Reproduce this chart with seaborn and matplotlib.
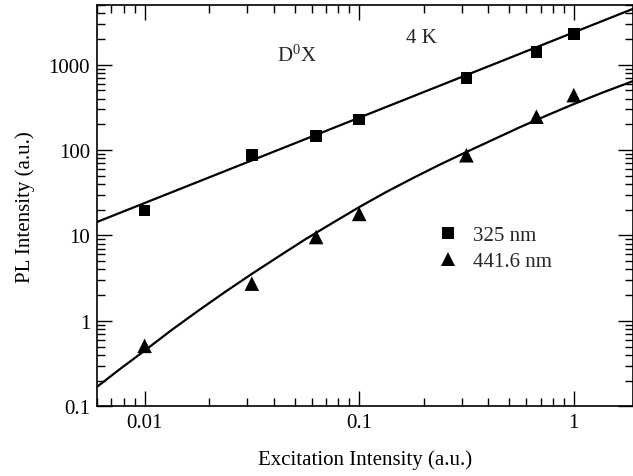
import matplotlib
matplotlib.use("Agg")
import matplotlib.pyplot as plt
from matplotlib.ticker import FixedLocator, FixedFormatter, LogLocator, NullFormatter
import numpy as np
import pandas as pd
import seaborn as sns

# Measured PL intensities at each excitation intensity
excitation = [0.01, 0.0316, 0.063, 0.1, 0.316, 0.67, 1.0]
pl_325 = [19.6, 87, 146, 229, 698, 1397, 2290]
pl_4416 = [0.51, 2.73, 9.6, 17.9, 87, 246, 440]

# Fit curves drawn through the data
fit_325_x = [0.006, 1.88]
fit_325_y = [14.4, 4490]
fit_4416_x = [0.006, 0.00775, 0.01, 0.0133, 0.0178, 0.0237, 0.0316, 0.0422,
              0.056, 0.075, 0.1, 0.133, 0.178, 0.237, 0.316, 0.422,
              0.56, 0.75, 1.0, 1.37, 1.88]
fit_4416_y = [0.169, 0.278, 0.448, 0.775, 1.318, 2.18, 3.55, 5.70,
              9.0, 14.0, 21.5, 32.1, 47, 67.4, 95, 133,
              185, 255, 346, 474, 640]

x_ticks = [0.01, 0.1, 1]
x_tick_labels = ["0.01", "0.1", "1"]
y_ticks = [0.1, 1, 10, 100, 1000]
y_tick_labels = ["0.1", "1", "10", "100", "1000"]

sns.set_theme(style="ticks")
plt.rcParams["font.family"] = ["Liberation Serif", "DejaVu Serif"]
plt.rcParams["mathtext.fontset"] = "custom"
plt.rcParams["mathtext.rm"] = "Liberation Serif"
plt.rcParams["mathtext.it"] = "Liberation Serif:italic"

FS = 15

fig = plt.figure(figsize=(6.33, 4.77), dpi=100)
ax = fig.add_axes([97 / 633, 69.7 / 477, 535.6 / 633, 401.3 / 477])

pts = pd.DataFrame({
    "x": excitation * 2,
    "y": pl_325 + pl_4416,
    "series": ["325 nm"] * len(excitation) + ["441.6 nm"] * len(excitation),
})
fits = pd.DataFrame({
    "x": fit_325_x + fit_4416_x,
    "y": fit_325_y + fit_4416_y,
    "series": ["325 nm"] * len(fit_325_x) + ["441.6 nm"] * len(fit_4416_x),
})

sns.lineplot(data=fits, x="x", y="y", units="series", estimator=None,
             color="black", lw=1.6, ax=ax, legend=False, sort=False)
sns.scatterplot(data=pts, x="x", y="y", style="series",
                markers={"325 nm": "s", "441.6 nm": "^"},
                size="series", sizes={"325 nm": 70, "441.6 nm": 110},
                color="black", edgecolor="black", linewidth=0, ax=ax,
                zorder=3)

ax.set_xscale("log")
ax.set_yscale("log")
ax.set_xlim(0.006, 1.88)
ax.set_ylim(0.1, 5000)

ax.xaxis.set_major_locator(FixedLocator(x_ticks))
ax.xaxis.set_major_formatter(FixedFormatter(x_tick_labels))
ax.yaxis.set_major_locator(FixedLocator(y_ticks))
ax.yaxis.set_major_formatter(FixedFormatter(y_tick_labels))
ax.xaxis.set_minor_locator(LogLocator(base=10, subs=np.arange(2, 10)))
ax.yaxis.set_minor_locator(LogLocator(base=10, subs=np.arange(2, 10)))
ax.xaxis.set_minor_formatter(NullFormatter())
ax.yaxis.set_minor_formatter(NullFormatter())

ax.tick_params(which="both", direction="in", top=True, right=True,
               color="black", width=1.0, labelsize=FS, labelcolor="black")
ax.tick_params(which="major", length=11, pad=5)
ax.tick_params(which="minor", length=5.5)
for s in ax.spines.values():
    s.set_linewidth(1.2)
    s.set_color("black")

ax.set_xlabel("Excitation Intensity (a.u.)", fontsize=FS, labelpad=12, color="black")
ax.set_ylabel("PL Intensity (a.u.)", fontsize=FS, labelpad=10, color="black")

ax.text(0.0415, 1100, "D$^{0}$X", fontsize=FS, ha="left", va="baseline")
ax.text(0.166, 1830, "4 K", fontsize=FS, ha="left", va="baseline")

leg = ax.legend(frameon=False, fontsize=FS, loc="upper left",
                bbox_to_anchor=(427 / 633, 1 - 216 / 477),
                bbox_transform=fig.transFigure, handlelength=1.0,
                handletextpad=0.7, labelspacing=0.3, borderpad=0)
for h in leg.legend_handles:
    h.set_color("black")

fig.savefig("out.png", dpi=100)
